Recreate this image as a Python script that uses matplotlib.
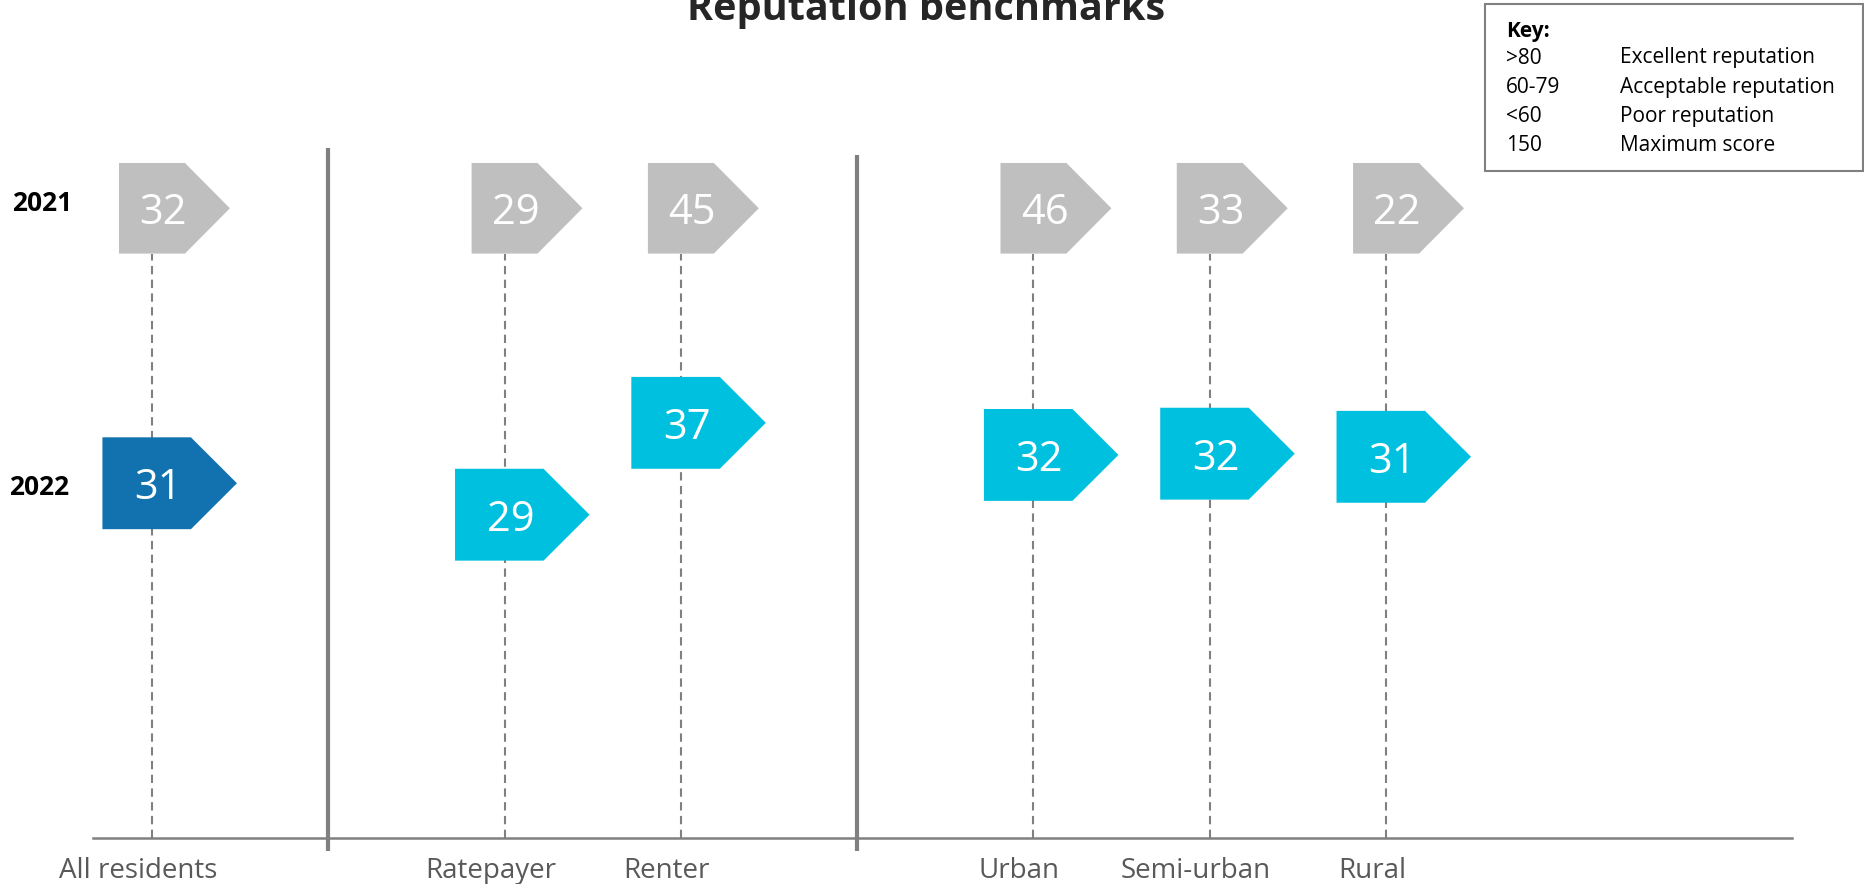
import matplotlib
matplotlib.use("Agg")
import matplotlib.pyplot as plt
from matplotlib.patches import Polygon, Rectangle

plt.rcParams['font.family'] = ['Open Sans', 'DejaVu Sans']

# values
groups = [["All residents"], ["Ratepayer", "Renter"], ["Urban", "Semi-urban", "Rural"]]
scores_2021 = [32, 29, 45, 46, 33, 22]
scores_2022 = [31, 29, 37, 32, 32, 31]
years = ["2021", "2022"]
key_ranges = [">80", "60-79", "<60", "150"]
key_labels = ["Excellent reputation", "Acceptable reputation", "Poor reputation", "Maximum score"]

# layout (row levels: baseline = 0, 2021 row = 10)
row_2021 = 10.0
rows_2022 = [5.63, 5.13, 6.59, 6.08, 6.10, 6.05]  # 2022 tags are not lined up in the original
GRAY = "#BFBFBF"
DARK_BLUE = "#1272B0"
CYAN = "#00C0DF"
LINE = "#808080"

# category slots, one empty slot between groups for the separator
xpos, seps = [], []
i = 0
for g, names in enumerate(groups):
    if g > 0:
        seps.append(i)
        i += 1
    for n in names:
        xpos.append(i)
        i += 1
labels = [n for names in groups for n in names]


def tag(ax, x, y, rect_w, tip_w, h, color):
    xl, xr = x - rect_w / 2, x + rect_w / 2
    pts = [(xl, y - h / 2), (xr, y - h / 2), (xr + tip_w, y), (xr, y + h / 2), (xl, y + h / 2)]
    ax.add_patch(Polygon(pts, closed=True, facecolor=color, edgecolor='none', zorder=3))


fig = plt.figure(figsize=(18.64, 8.84), dpi=100)
ax = fig.add_axes([0, 0, 1, 1])
ax.set_xlim(-0.862, 9.711)
ax.set_ylim(-0.739, 13.31)
ax.axis('off')

h21, h22 = 1.44, 1.46

# baseline and group separators
ax.plot([-0.335, 9.30], [0, 0], color=LINE, lw=1.8, zorder=1)
for s, top in zip(seps, [10.95, 10.85]):
    ax.plot([s, s], [-0.21, top], color=LINE, lw=3, zorder=1, solid_capstyle='butt')

for k, x in enumerate(xpos):
    ax.plot([x, x], [0, row_2021 - h21 / 2], color=LINE, lw=1.5,
            linestyle=(0, (4, 2.6)), zorder=2)

    tag(ax, x, row_2021, 0.374, 0.255, h21, GRAY)
    ax.text(x + 0.063, row_2021, str(scores_2021[k]), ha='center', va='center_baseline',
            fontsize=30, color='white', zorder=4)

    c = DARK_BLUE if k == 0 else CYAN
    tag(ax, x - 0.03, rows_2022[k], 0.502, 0.261, h22, c)
    ax.text(x + 0.033, rows_2022[k], str(scores_2022[k]), ha='center', va='center_baseline',
            fontsize=30, color='white', zorder=4)

    ax.text(x - 0.08, -0.53, labels[k], ha='center', va='center', fontsize=20, color='#595959')

# year labels
ax.text(-0.624, row_2021 + 0.08, years[0], ha='center', va='center', fontsize=19,
        fontweight='bold', color='black')
ax.text(-0.64, rows_2022[0] - 0.06, years[1], ha='center', va='center', fontsize=19,
        fontweight='bold', color='black')

# title, cut at the top as in the original
fig.text(926 / 1864, 1 - 20 / 884, "Reputation benchmarks", ha='center', va='baseline',
         fontsize=28.5, fontweight='bold', color='#262626')

# key box
W, H = 1864, 884
fig.add_artist(Rectangle((1485 / W, 1 - 171 / H), (1863 - 1485) / W, (171 - 4) / H,
                         transform=fig.transFigure, fill=False, edgecolor=LINE, lw=1.5))
fig.text(1506 / W, 1 - 32 / H, "Key:", ha='left', va='center', fontsize=15,
         fontweight='bold', color='black')
for r, (a, b) in enumerate(zip(key_ranges, key_labels)):
    yy = 1 - (58 + 29.2 * r) / H
    fig.text(1506 / W, yy, a, ha='left', va='center', fontsize=15, color='black')
    fig.text(1620 / W, yy, b, ha='left', va='center', fontsize=15, color='black')

fig.savefig("out.png", dpi=100)
